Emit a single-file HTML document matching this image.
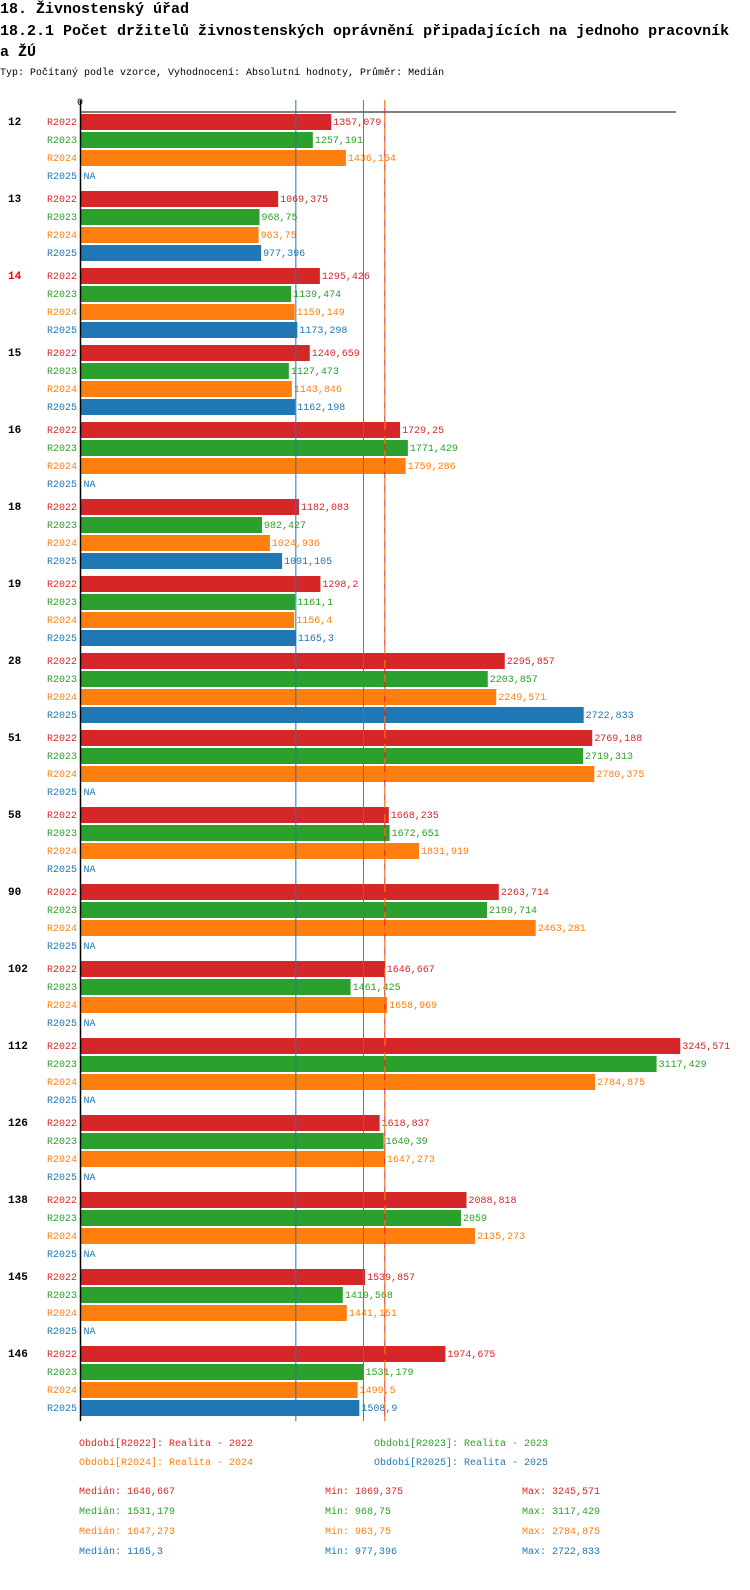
<!DOCTYPE html>
<html><head><meta charset="utf-8">
<style>
body{margin:0;background:#fff;width:750px;height:1590px;overflow:hidden;font-family:"Liberation Mono",monospace;}
svg{position:absolute;left:0;top:0}
</style></head>
<body>
<svg id="chart" width="750" height="1590" xmlns="http://www.w3.org/2000/svg" font-family="Liberation Mono, DejaVu Sans Mono, monospace">
<text x="0" y="13" font-size="15" font-weight="bold" fill="#000">18. Živnostenský úřad</text>
<text x="0" y="35" font-size="15" font-weight="bold" fill="#000">18.2.1 Počet držitelů živnostenských oprávnění připadajících na jednoho pracovník</text>
<text x="0" y="56" font-size="15" font-weight="bold" fill="#000">a ŽÚ</text>
<text x="0" y="75" font-size="10" fill="#000">Typ: Počítaný podle vzorce, Vyhodnocení: Absolutní hodnoty, Průměr: Medián</text>
<g id="plot"></g>
</svg>
<script>
const groups = ["12","13","14","15","16","18","19","28","51","58","90","102","112","126","138","145","146"];
const series = ["R2022","R2023","R2024","R2025"];
const colors = ["#d62728","#2ca02c","#ff7f0e","#1f77b4"];
const r2022 = [1357.079,1069.375,1295.426,1240.659,1729.25,1182.083,1298.2,2295.857,2769.188,1668.235,2263.714,1646.667,3245.571,1618.837,2088.818,1539.857,1974.675];
const r2023 = [1257.191,968.75,1139.474,1127.473,1771.429,982.427,1161.1,2203.857,2719.313,1672.651,2199.714,1461.425,3117.429,1640.39,2059,1419.568,1531.179];
const r2024 = [1436.154,963.75,1159.149,1143.846,1759.286,1024.936,1156.4,2249.571,2780.375,1831.919,2463.281,1658.969,2784.875,1647.273,2135.273,1441.151,1499.5];
const r2025 = [null,977.396,1173.298,1162.198,null,1091.105,1165.3,2722.833,null,null,null,null,null,null,null,null,1508.9];
const medians = [1646.667,1531.179,1647.273,1165.3];
const mins = [1069.375,968.75,963.75,977.396];
const maxs = [3245.571,3117.429,2784.875,2722.833];
const highlightGroup = "14";

const NS="http://www.w3.org/2000/svg";
const plot=document.getElementById('plot');
const x0=80.5, sc=0.1848;
const xs=v=>x0+v*sc;
const groupTop=i=>114+77*i;
const fmt=v=>String(v).replace('.',',');
function el(tag,attrs,txt){const e=document.createElementNS(NS,tag);for(const k in attrs)e.setAttribute(k,attrs[k]);if(txt!=null)e.textContent=txt;plot.appendChild(e);return e;}
const all=[r2022,r2023,r2024,r2025];

// zero label & top axis
let t=el('text',{x:77,y:105,'font-size':10,fill:'#000'},'0');


let l=el('line',{x1:x0,y1:112,x2:676,y2:112,stroke:'#000','stroke-width':1});



groups.forEach((g,i)=>{
  const top=groupTop(i);
  const gl=el('text',{x:8,y:top+11,'font-size':11,'font-weight':'bold',fill:g===highlightGroup?'#ff0000':'#000'},g);
  
  
  all.forEach((arr,j)=>{
    const y=top+18*j;
    const sl=el('text',{x:77,y:y+11,'font-size':10,fill:colors[j],'text-anchor':'end'},series[j]);
    
    
    const v=arr[i];
    if(v==null){
      const na=el('text',{x:x0+3,y:y+11,'font-size':10,fill:colors[j]},'NA');
      
      
    } else {
      const b=el('rect',{x:x0,y:y,width:xs(v)-x0,height:16,fill:colors[j]});
      
      
      const vl=el('text',{x:xs(v)+2,y:y+11,'font-size':10,fill:colors[j]},fmt(v));
      
      
    }
  });
});

// y axis
l=el('line',{x1:x0,y1:100,x2:x0,y2:1421,stroke:'#000','stroke-width':1.5});


// median lines
[3,1,0,2].forEach(j=>{
  const a={x1:xs(medians[j]),y1:100,x2:xs(medians[j]),y2:1421,stroke:colors[j],'stroke-width':1};
  if(j===2)a['stroke-dasharray']='8,6';
  const m=el('line',a);
  
  
});

// legend
const legendPos=[[79,1446],[374,1446],[79,1465],[374,1465]];
series.forEach((s,j)=>{
  const lg=el('text',{x:legendPos[j][0],y:legendPos[j][1],'font-size':10,fill:colors[j]},'Období['+s+']: Realita - '+s.slice(1));
  
  
});
series.forEach((s,j)=>{
  const y=1494+20*j;
  let a=el('text',{x:79,y:y,'font-size':10,fill:colors[j]},'Medián: '+fmt(medians[j]));
  
  
  a=el('text',{x:325,y:y,'font-size':10,fill:colors[j]},'Min: '+fmt(mins[j]));
  
  
  a=el('text',{x:522,y:y,'font-size':10,fill:colors[j]},'Max: '+fmt(maxs[j]));
  
  
});
</script>
</body></html>
